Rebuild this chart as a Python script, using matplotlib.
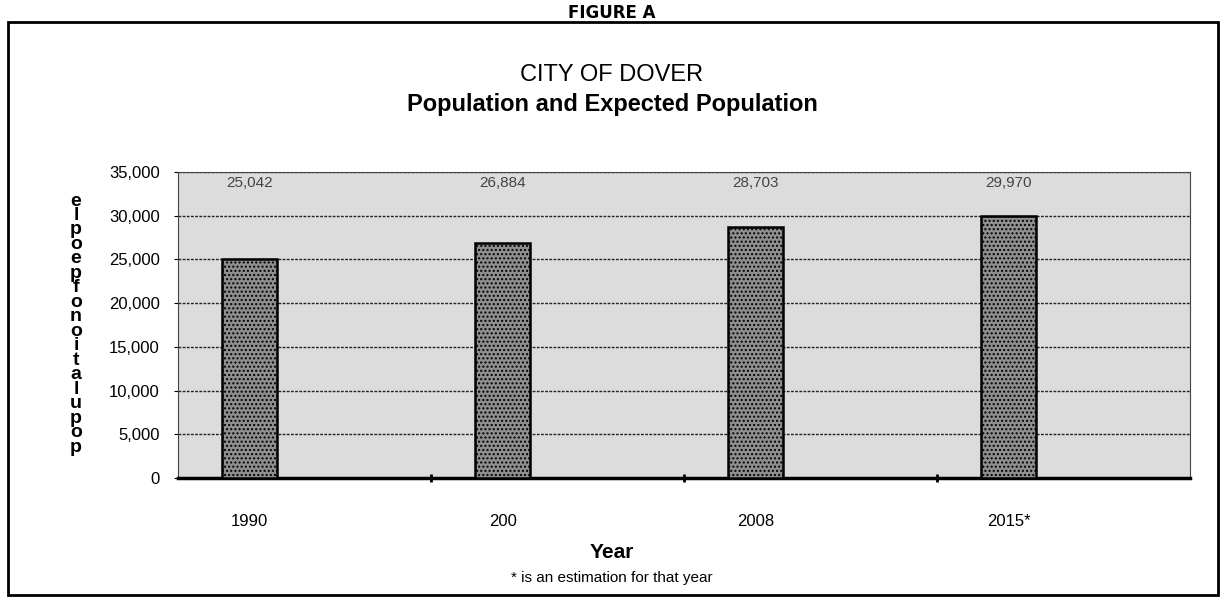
import matplotlib.pyplot as plt
from matplotlib.patches import Rectangle
import numpy as np

plt.rcParams['font.family'] = ['Liberation Sans', 'DejaVu Sans']

# Data
years = ["1990", "200", "2008", "2015*"]
population = [25042, 26884, 28703, 29970]
value_labels = ["25,042", "26,884", "28,703", "29,970"]
yticks = [0, 5000, 10000, 15000, 20000, 25000, 30000, 35000]
ylabel_text = "population of people"

fig = plt.figure(figsize=(12.24, 6), dpi=100)
ax = fig.add_axes([0.1454, 0.2033, 0.8268, 0.51])

x = np.arange(len(years))
offset = 0.217
ax.set_facecolor('#dcdcdc')
ax.bar(x - offset, population, width=0.217, color='#8f8f8f',
       edgecolor='black', linewidth=1.8, hatch='....', zorder=3)
for xi, lab in zip(x, value_labels):
    ax.text(xi - offset, 33800, lab, ha='center', va='center',
            fontsize=11, color='#444444', zorder=4)

ax.set_xlim(-0.5, 3.5)
ax.set_ylim(0, 35000)
ax.set_yticks(yticks)
ax.set_yticklabels([f"{v:,}" for v in yticks], fontsize=12)
ax.set_xticks(x - offset)
ax.set_xticklabels(years, fontsize=12)
ax.set_xticks(x[:-1] + 0.5, minor=True)
ax.tick_params(axis='x', which='major', length=0, pad=26)
ax.tick_params(axis='x', which='minor', length=6, width=2, direction='inout')
ax.tick_params(axis='y', length=3, pad=10)
ax.grid(axis='y', color='#222222', linewidth=1.0, linestyle=(0, (2, 1)), zorder=1)
for s in ['left', 'right', 'top']:
    ax.spines[s].set_linestyle((0, (1, 1)))
    ax.spines[s].set_color('#444444')
ax.spines['bottom'].set_linewidth(2.5)

# stacked y label letters, read bottom to top
letters = [c for c in ylabel_text if c != ' ']
ys = np.linspace(0.255, 0.665, len(letters))
for c, yy in zip(letters, ys):
    fig.text(0.062, yy, c, ha='center', va='center', fontsize=14,
             fontweight='bold')

fig.text(0.5, 0.08, "Year", ha='center', va='center', fontsize=15,
         fontweight='bold')
fig.text(0.5, 0.037, "* is an estimation for that year", ha='center',
         va='center', fontsize=11)

fig.text(0.5, 0.875, "CITY OF DOVER", ha='center', va='center', fontsize=17)
fig.text(0.5, 0.825, "Population and Expected Population", ha='center',
         va='center', fontsize=17, fontweight='bold')
fig.text(0.5, 0.978, "FIGURE A", ha='center', va='center', fontsize=12,
         fontweight='bold', family='DejaVu Sans')

fig.add_artist(Rectangle((0.0065, 0.008), 0.9885, 0.955, transform=fig.transFigure,
                         fill=False, edgecolor='black', linewidth=2))

fig.savefig('out.png', dpi=100)
